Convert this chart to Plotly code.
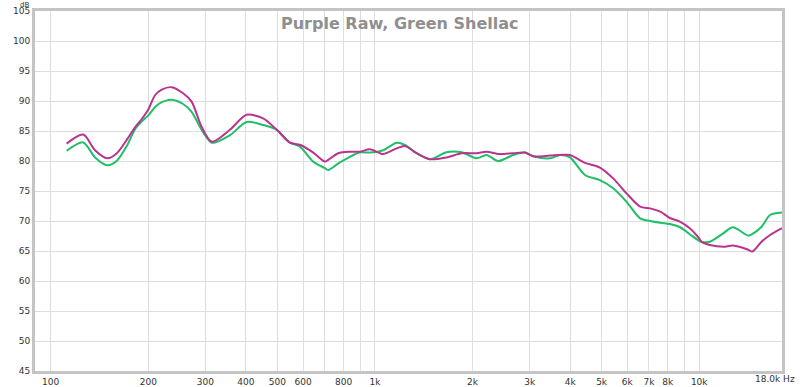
import plotly.graph_objects as go

freq_hz = [112, 126, 137, 149.5, 160, 172, 182, 191, 200, 210, 220, 236, 256, 272, 292, 314,
           357, 402, 452, 498, 547, 587, 645, 701, 718, 771, 837, 899, 965, 1061, 1166, 1237,
           1344, 1478, 1663, 1850, 2059, 2208, 2399, 2670, 2900, 3075, 3465, 3720, 3993,
           4442, 4940, 5428, 5970, 6570, 7060, 7590, 8120, 8710, 9350, 9930, 10160, 10790,
           11860, 12700, 14170, 14560, 15570, 16540, 18000]

purple_raw_db = [82.9, 84.4, 81.8, 80.45, 81.3, 83.6, 85.6, 87.0, 88.6, 91.0, 91.9, 92.3,
                 91.3, 89.9, 85.7, 83.2, 85.2, 87.7, 87.1, 85.2, 83.05, 82.7, 81.4, 79.9,
                 80.2, 81.3, 81.55, 81.55, 81.95, 81.17, 82.1, 82.5, 81.3, 80.3, 80.6, 81.3,
                 81.3, 81.55, 81.17, 81.3, 81.4, 80.8, 80.9, 81.0, 81.0, 79.7, 78.9, 77.1,
                 74.6, 72.4, 72.1, 71.55, 70.5, 69.9, 68.8, 67.3, 66.55, 66.0, 65.7, 65.9,
                 65.2, 64.9, 66.55, 67.67, 68.8]

green_shellac_db = [81.7, 83.1, 80.6, 79.3, 80.05, 82.6, 85.3, 86.6, 87.6, 89.0, 89.8, 90.2,
                    89.5, 88.2, 85.2, 83.05, 84.3, 86.5, 86.0, 85.2, 83.05, 82.4, 79.9, 78.8,
                    78.5, 79.6, 80.7, 81.45, 81.4, 81.8, 83.05, 82.67, 81.3, 80.3, 81.45,
                    81.45, 80.45, 81.0, 80.0, 81.0, 81.4, 80.8, 80.45, 81.0, 80.6, 77.67, 76.8,
                    75.45, 73.2, 70.45, 70.0, 69.7, 69.5, 69.0, 67.8, 66.8, 66.55, 66.55,
                    67.95, 68.95, 67.55, 67.8, 69.05, 71.0, 71.4]

x_grid_vals = [100, 200, 300, 400, 500, 600, 700, 800, 900, 1000, 2000, 3000, 4000, 5000,
               6000, 7000, 8000, 9000, 10000]
x_tick_text = ["100", "200", "300", "400", "500", "600", "", "800", "", "1k", "2k", "3k",
               "4k", "5k", "6k", "7k", "8k", "", "10k"]
y_tick_vals = list(range(45, 106, 5))

title_text = "Purple Raw, Green Shellac"

fig = go.Figure()
fig.add_trace(go.Scatter(x=freq_hz, y=green_shellac_db, mode="lines",
                         line=dict(color="#1fbf68", width=2, shape="spline", smoothing=0.8),
                         name="Green Shellac", hoverinfo="skip"))
fig.add_trace(go.Scatter(x=freq_hz, y=purple_raw_db, mode="lines",
                         line=dict(color="#b8348e", width=2, shape="spline", smoothing=0.8),
                         name="Purple Raw", hoverinfo="skip"))

tick_font = dict(family="DejaVu Sans", size=9, color="#333333")

fig.update_layout(
    width=800, height=387,
    margin=dict(l=35, r=18, t=11, b=16, autoexpand=False),
    paper_bgcolor="white", plot_bgcolor="white",
    showlegend=False,
    xaxis=dict(type="log", range=[1.9516, 4.2553], tickvals=x_grid_vals, ticktext=x_tick_text,
               showgrid=True, gridcolor="#dedede", gridwidth=1, zeroline=False,
               showline=True, linecolor="#c4c4c4", linewidth=3, mirror=True,
               ticks="", tickfont=tick_font, automargin=False),
    yaxis=dict(range=[45, 105], tickvals=y_tick_vals, showgrid=True, gridcolor="#dedede",
               gridwidth=1, zeroline=False, showline=True, linecolor="#c4c4c4", linewidth=3,
               mirror=True, ticks="", tickfont=tick_font, automargin=False),
    annotations=[
        dict(text=title_text, xref="paper", yref="paper", x=0.489, y=1.0, xanchor="center",
             yanchor="top", showarrow=False, yshift=-1,
             font=dict(family="DejaVu Sans", size=16, color="#8f8f8f", weight="bold")),
        dict(text="dB", xref="paper", yref="paper", x=(31 - 35) / 747, y=1.0, xanchor="right",
             yanchor="bottom", showarrow=False, yshift=0,
             font=dict(family="DejaVu Sans", size=7, color="#333333")),
        dict(text="18.0k Hz", xref="paper", yref="paper", x=(797 - 35) / 747, y=0,
             xanchor="right", yanchor="top", showarrow=False, yshift=-1,
             font=dict(family="DejaVu Sans", size=9, color="#333333")),
    ],
)

fig.write_html("out.html", config={"displayModeBar": False},
               post_script="document.body.style.margin='0';")
